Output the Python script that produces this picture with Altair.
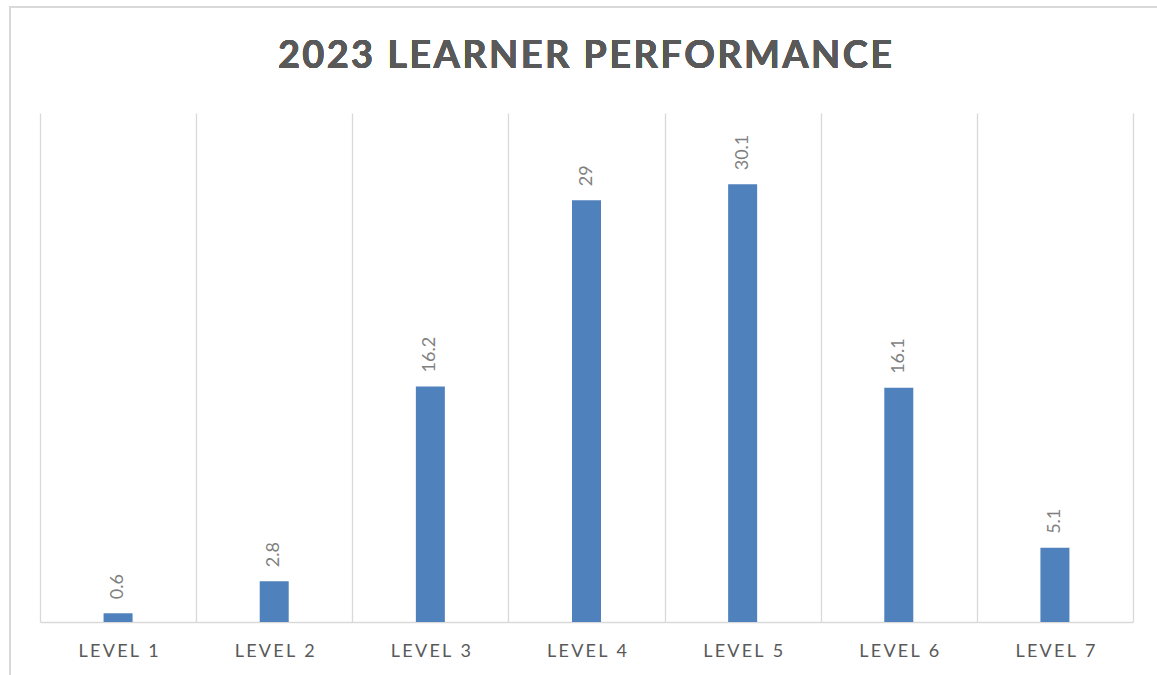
import altair as alt
import pandas as pd

categories = ["LEVEL 1", "LEVEL 2", "LEVEL 3", "LEVEL 4", "LEVEL 5", "LEVEL 6", "LEVEL 7"]
values = [0.6, 2.8, 16.2, 29, 30.1, 16.1, 5.1]
labels = ["0.6", "2.8", "16.2", "29", "30.1", "16.1", "5.1"]
title_text = "2023 LEARNER PERFORMANCE"

df = pd.DataFrame({"cat": categories, "val": values, "lab": labels})

W, H = 1093, 509
FONT = "Lato"

x = alt.X("cat:N", sort=categories,
          scale=alt.Scale(paddingInner=0, paddingOuter=0),
          axis=alt.Axis(title=None, labelAngle=0, labelFontSize=18, labelColor="#595959",
                        labelFont=FONT, labelPadding=20, ticks=False, grid=True,
                        labelExpr="join(split(datum.label, ''), '\u2009')",
                        gridColor="#d9d9d9", gridWidth=1.3, tickBand="extent",
                        domainColor="#d9d9d9", domainWidth=1.5))
y = alt.Y("val:Q", scale=alt.Scale(domain=[0, 35]), axis=None)

border = alt.Chart(df).mark_rect(fill=None, stroke="#d9d9d9", strokeWidth=2).encode(
    x=alt.value(-30), x2=alt.value(1300), y=alt.value(-106), y2=alt.value(800)
)

bars = alt.Chart(df).mark_bar(color="#4f81bd", size=29).encode(x=x, y=y)

text = alt.Chart(df).mark_text(angle=270, align="left", baseline="middle", dx=14,
                               fontSize=18, color="#7f7f7f", font=FONT).encode(
    x=alt.X("cat:N", sort=categories), y=y, text="lab:N")

title = alt.Chart(df).transform_calculate(
    t="join(split('" + title_text + "', ''), '\u200a')"
).mark_text(fontSize=38, fontWeight="bold", color="#595959", font=FONT,
            align="center", baseline="middle").encode(
    x=alt.value(545), y=alt.value(-56), text="t:N")

chart = alt.layer(border, bars, text, title).properties(
    width=W, height=H,
    autosize=alt.AutoSizeParams(type="none"),
    padding={"left": 40, "top": 113, "right": 24, "bottom": 53},
).configure_view(stroke=None).configure_axisX(labelLimit=300)

chart.save("out.html", embed_options={"renderer": "svg", "actions": False})
